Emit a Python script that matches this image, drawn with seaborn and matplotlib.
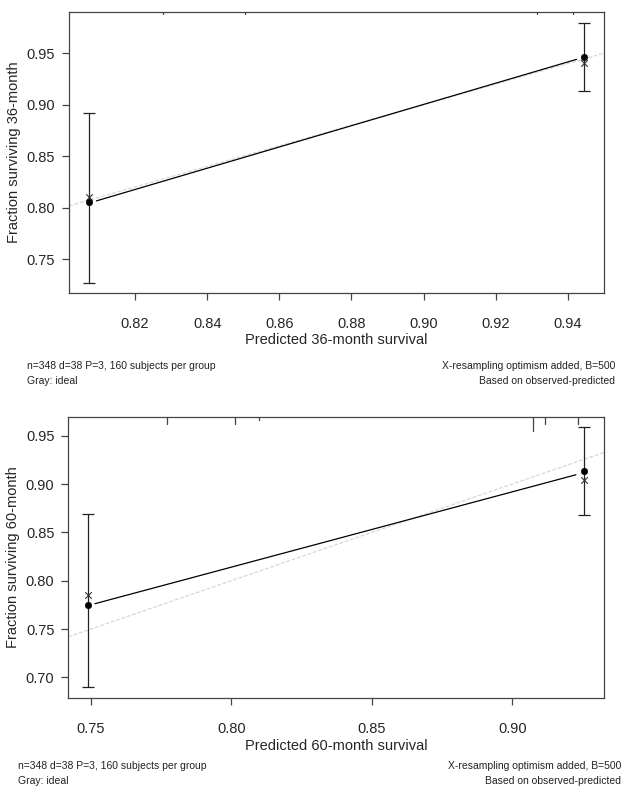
import matplotlib
matplotlib.use("Agg")
import numpy as np
import pandas as pd
import matplotlib.pyplot as plt
import seaborn as sns

# 36-month calibration
pred36 = [0.8073, 0.9445]
obs36 = [0.8058, 0.9467]
corr36 = [0.8107, 0.9400]
lo36 = [0.727, 0.913]
hi36 = [0.892, 0.979]
line36_x = [0.8093, 0.9424]
line36_y = [0.8065, 0.9440]
rug36_x = [0.8278, 0.8505, 0.9314, 0.9414]
rug36_h = [0.15, 0.15, 0.15, 0.15]

# 60-month calibration
pred60 = [0.7490, 0.9256]
obs60 = [0.7744, 0.9130]
corr60 = [0.7848, 0.9045]
lo60 = [0.6896, 0.8683]
hi60 = [0.8694, 0.9586]
line60_x = [0.7514, 0.9227]
line60_y = [0.7762, 0.9096]
rug60_x = [0.7771, 0.8013, 0.8098, 0.9073, 0.9116, 0.9234]
rug60_h = [0.5, 0.5, 0.2, 1.0, 0.55, 0.55]

foot_left = ["n=348 d=38 P=3, 160 subjects per group", "Gray: ideal"]
foot_right = ["X-resampling optimism added, B=500", "Based on observed-predicted"]

sns.set_theme(style="white")
plt.rcParams["font.family"] = ["Liberation Sans", "DejaVu Sans"]


def calib_panel(fig, rect, pred, obs, corr, lo, hi, lx, ly, rug_x, rug_h,
                xlim, ylim, xticks, yticks, months):
    ax = fig.add_axes(rect)
    ax.set_xlim(*xlim)
    ax.set_ylim(*ylim)

    # ideal line
    ax.plot(xlim, xlim, color="#d6d6d6", lw=0.9, ls=(0, (3, 1.5)), zorder=1)

    sns.lineplot(x=lx, y=ly, ax=ax, color="black", lw=0.9, zorder=2)

    obs = np.array(obs)
    ax.errorbar(pred, obs, yerr=[obs - np.array(lo), np.array(hi) - obs],
                fmt="none", ecolor="#222222", elinewidth=0.9, capsize=4,
                capthick=0.9, zorder=3)
    sns.scatterplot(x=pred, y=obs, ax=ax, color="black", s=22,
                    edgecolor="black", zorder=4)
    sns.scatterplot(x=pred, y=corr, ax=ax, color="#333333", marker="x",
                    s=22, linewidth=0.8, zorder=4)

    # rug of predicted values along the top
    for rx, rh in zip(rug_x, rug_h):
        ax.plot([rx, rx], [1, 1 - 0.05 * rh], transform=ax.get_xaxis_transform(),
                color="#444444", lw=0.9, clip_on=False)

    ax.set_xticks(xticks)
    ax.set_yticks(yticks)
    ax.set_xticklabels([f"{t:.2f}" for t in xticks])
    ax.set_yticklabels([f"{t:.2f}" for t in yticks])
    ax.tick_params(axis="x", length=5, width=0.9, color="#444444", pad=12,
                   labelsize=10.5, bottom=True)
    ax.tick_params(axis="y", length=5, width=0.9, color="#444444", pad=5,
                   labelsize=10.5, left=True)
    ax.set_xlabel(f"Predicted {months}-month survival", fontsize=10.5, labelpad=2)
    ax.set_ylabel(f"Fraction surviving {months}-month", fontsize=10.5, labelpad=4)
    for sp in ax.spines.values():
        sp.set_color("#444444")
        sp.set_linewidth(0.9)
    return ax


fig = plt.figure(figsize=(6.24, 7.91), dpi=100)

calib_panel(fig, [69 / 624, 1 - 293 / 791, 535 / 624, 281 / 791],
            pred36, obs36, corr36, lo36, hi36, line36_x, line36_y,
            rug36_x, rug36_h, (0.8017, 0.950), (0.717, 0.990),
            [0.82, 0.84, 0.86, 0.88, 0.90, 0.92, 0.94],
            [0.75, 0.80, 0.85, 0.90, 0.95], 36)

calib_panel(fig, [68.3 / 624, 1 - 698.3 / 791, 535.7 / 624, 281.6 / 791],
            pred60, obs60, corr60, lo60, hi60, line60_x, line60_y,
            rug60_x, rug60_h, (0.7419, 0.9327), (0.6783, 0.9697),
            [0.75, 0.80, 0.85, 0.90],
            [0.70, 0.75, 0.80, 0.85, 0.90, 0.95], 60)

for y0, xl, xr in [(366, 27, 615), (766, 18, 621)]:
    for i, (tl, tr) in enumerate(zip(foot_left, foot_right)):
        yy = 1 - (y0 + 14.5 * i) / 791
        fig.text(xl / 624, yy, tl, fontsize=7.5, color="#222222",
                 ha="left", va="center")
        fig.text(xr / 624, yy, tr, fontsize=7.5, color="#222222",
                 ha="right", va="center")

fig.savefig("out.png", dpi=100)
plt.close(fig)
